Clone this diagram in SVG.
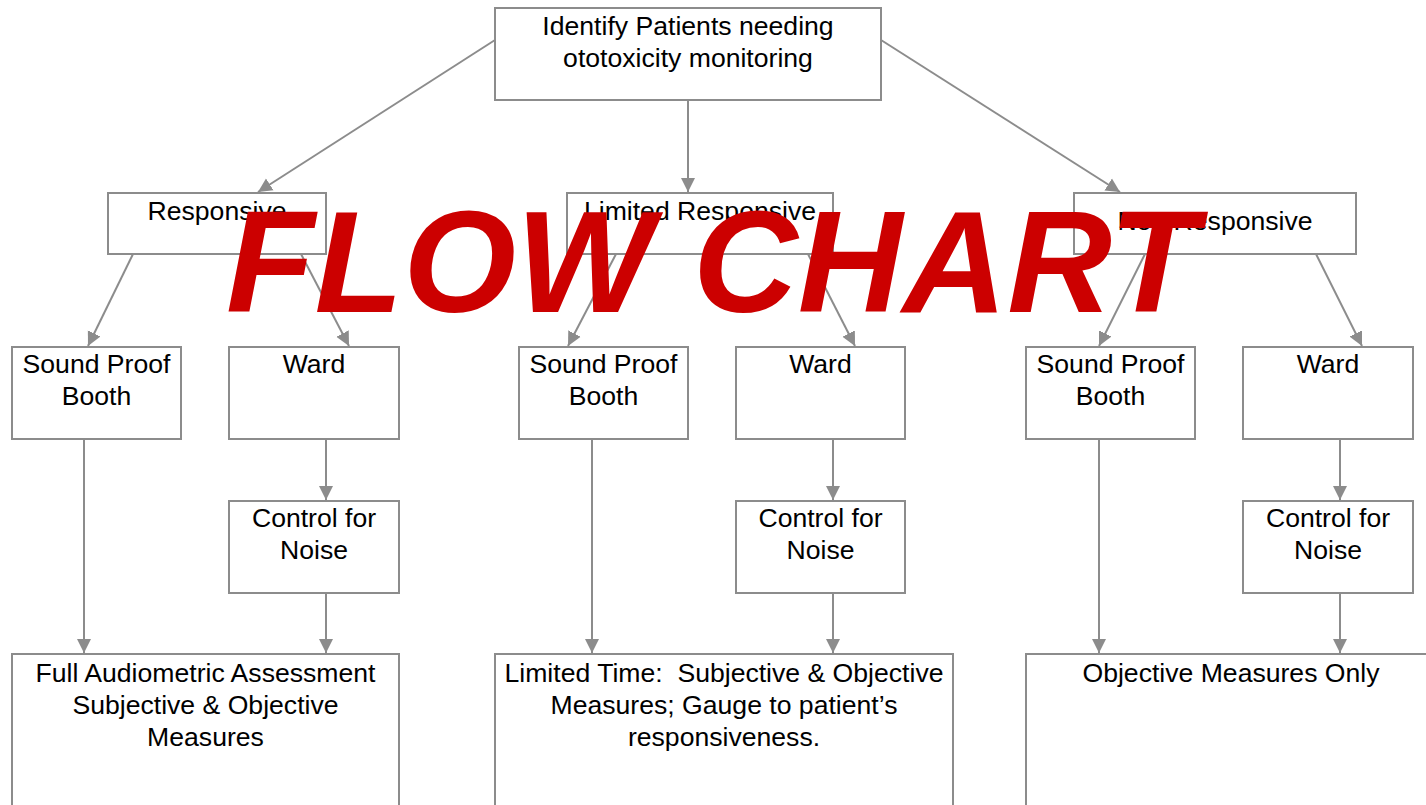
<svg xmlns="http://www.w3.org/2000/svg" width="1426" height="805" viewBox="0 0 1426 805">
<style>
.box{fill:#fff;stroke:#8c8c8c;stroke-width:2}
.t{font-family:"Liberation Sans",Arial,sans-serif;font-size:26.6px;fill:#000;text-anchor:middle;white-space:pre}
.c{stroke:#8c8c8c;stroke-width:2;fill:none;marker-end:url(#ah)}
.wm{font-family:"Liberation Sans",Arial,sans-serif;font-size:145px;font-weight:bold;font-style:italic;fill:#cc0000}
</style>
<defs>
<marker id="ah" markerUnits="userSpaceOnUse" markerWidth="16" markerHeight="16" viewBox="0 0 16 16" refX="14" refY="8" orient="auto">
<path d="M0,1 L14,8 L0,15 Z" fill="#8c8c8c"/>
</marker>
</defs>
<rect width="1426" height="805" fill="#fff"/>
<g id="connectors">
<line class="c" x1="495" y1="40" x2="258" y2="192"/>
<line class="c" x1="688" y1="100" x2="688" y2="192"/>
<line class="c" x1="881" y1="40" x2="1120" y2="192"/>
<line class="c" x1="133" y1="254" x2="88" y2="346"/>
<line class="c" x1="301" y1="254" x2="349" y2="346"/>
<line class="c" x1="616" y1="254" x2="568" y2="346"/>
<line class="c" x1="808" y1="254" x2="855" y2="346"/>
<line class="c" x1="1145" y1="254" x2="1099" y2="346"/>
<line class="c" x1="1316" y1="254" x2="1362" y2="346"/>
<line class="c" x1="84" y1="439" x2="84" y2="653"/>
<line class="c" x1="326" y1="439" x2="326" y2="500"/>
<line class="c" x1="326" y1="593" x2="326" y2="653"/>
<line class="c" x1="592" y1="439" x2="592" y2="653"/>
<line class="c" x1="833" y1="439" x2="833" y2="500"/>
<line class="c" x1="833" y1="593" x2="833" y2="653"/>
<line class="c" x1="1099" y1="439" x2="1099" y2="653"/>
<line class="c" x1="1340" y1="439" x2="1340" y2="500"/>
<line class="c" x1="1340" y1="593" x2="1340" y2="653"/>
</g>
<g id="n-identify"><rect class="box" x="495" y="8" width="386" height="92"/><text class="t" x="688" y="35">Identify Patients needing</text><text class="t" x="688" y="67">ototoxicity monitoring</text></g>
<g id="n-responsive"><rect class="box" x="108" y="193" width="218" height="61"/><text class="t" x="217" y="220">Responsive</text></g>
<g id="n-limited"><rect class="box" x="567" y="193" width="266" height="61"/><text class="t" x="700" y="220">Limited Responsive</text></g>
<g id="n-non"><rect class="box" x="1074" y="193" width="282" height="61"/><text class="t" x="1215" y="230">Non Responsive</text></g>
<g id="n-booth1"><rect class="box" x="12" y="347" width="169" height="92"/><text class="t" x="96.5" y="373">Sound Proof</text><text class="t" x="96.5" y="405">Booth</text></g>
<g id="n-ward1"><rect class="box" x="229" y="347" width="170" height="92"/><text class="t" x="314" y="373">Ward</text></g>
<g id="n-booth2"><rect class="box" x="519" y="347" width="169" height="92"/><text class="t" x="603.5" y="373">Sound Proof</text><text class="t" x="603.5" y="405">Booth</text></g>
<g id="n-ward2"><rect class="box" x="736" y="347" width="169" height="92"/><text class="t" x="820.5" y="373">Ward</text></g>
<g id="n-booth3"><rect class="box" x="1026" y="347" width="169" height="92"/><text class="t" x="1110.5" y="373">Sound Proof</text><text class="t" x="1110.5" y="405">Booth</text></g>
<g id="n-ward3"><rect class="box" x="1243" y="347" width="170" height="92"/><text class="t" x="1328" y="373">Ward</text></g>
<g id="n-noise1"><rect class="box" x="229" y="501" width="170" height="92"/><text class="t" x="314" y="527">Control for</text><text class="t" x="314" y="559">Noise</text></g>
<g id="n-noise2"><rect class="box" x="736" y="501" width="169" height="92"/><text class="t" x="820.5" y="527">Control for</text><text class="t" x="820.5" y="559">Noise</text></g>
<g id="n-noise3"><rect class="box" x="1243" y="501" width="170" height="92"/><text class="t" x="1328" y="527">Control for</text><text class="t" x="1328" y="559">Noise</text></g>
<g id="n-full"><rect class="box" x="12" y="654" width="387" height="170"/><text class="t" x="205.5" y="682">Full Audiometric Assessment</text><text class="t" x="205.5" y="714">Subjective &amp; Objective</text><text class="t" x="205.5" y="746">Measures</text></g>
<g id="n-limitedtime"><rect class="box" x="495" y="654" width="458" height="170"/><text class="t" x="724" y="682" xml:space="preserve">Limited Time:  Subjective &amp; Objective</text><text class="t" x="724" y="714">Measures; Gauge to patient’s</text><text class="t" x="724" y="746">responsiveness.</text></g>
<g id="n-objective"><rect class="box" x="1026" y="654" width="420" height="170"/><text class="t" x="1231" y="682">Objective Measures Only</text></g>
<text class="wm" x="226" y="312">FLOW CHART</text>
</svg>
